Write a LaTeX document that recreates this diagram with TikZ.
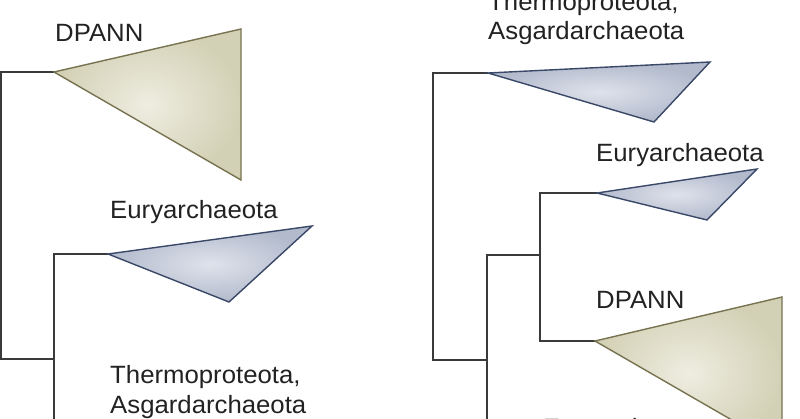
\documentclass[tikz,border=0pt]{standalone}
\usepackage{fontspec}
\setmainfont[FakeStretch=1.03]{Liberation Sans}
\definecolor{linegray}{HTML}{3A3A3A}
\definecolor{textgray}{HTML}{222222}
\definecolor{beigeedge}{HTML}{77724F}
\definecolor{beigein}{HTML}{EEEDE1}
\definecolor{beigeout}{HTML}{D3D1B5}
\definecolor{blueedge}{HTML}{3A4868}
\definecolor{bluein}{HTML}{DFE2EB}
\definecolor{blueout}{HTML}{B2BACC}
\begin{document}
\begin{tikzpicture}[x=1pt,y=-1pt,
  branch/.style={draw=linegray, line width=1.1pt},
  cladeA/.style={draw=beigeedge, line width=1.4pt, line join=miter, inner color=beigein, outer color=beigeout},
  cladeB/.style={draw=blueedge, line width=1.4pt, line join=miter, inner color=bluein, outer color=blueout},
  lab/.style={font=\fontsize{25}{30}\selectfont, text=textgray, inner sep=0pt, anchor=base west}]
\useasboundingbox (0,0) rectangle (800,419);
\clip (0,0) rectangle (800,419);
% left tree
\coordinate (L0a) at (1,72);
\coordinate (L0b) at (1,359);
\coordinate (Ld) at (54,72);
\coordinate (L1) at (54,359);
\coordinate (L1b) at (54,430);
\coordinate (Le) at (108,254);
\draw[branch] (Ld) -- (L0a) -- (L0b) -- (L1);
\draw[branch] (Le) -| (L1) -- (L1b);
\shadedraw[cladeA] (Ld) -- (241,29) -- (241,180) -- cycle;
\shadedraw[cladeB] (Le) -- (312,226) -- (229,302) -- cycle;
% right tree
\coordinate (Rt) at (488,73);
\coordinate (R0b) at (433,360);
\coordinate (R1) at (487,360);
\coordinate (R1b) at (487,430);
\coordinate (R2) at (540,255);
\coordinate (Re) at (597,193);
\coordinate (Rd) at (595,341);
\draw[branch] (Rt) -| (R0b) -- (R1);
\draw[branch] (R2) -| (R1) -- (R1b);
\draw[branch] (Re) -| (R2) |- (Rd);
\shadedraw[cladeB] (Rt) -- (710,62) -- (654,122) -- cycle;
\shadedraw[cladeB] (Re) -- (757,169) -- (707,220) -- cycle;
\shadedraw[cladeA] (Rd) -- (782,297) -- (782,449) -- cycle;
% labels
\node[lab] (tL1) at (55,42) {DPANN};
\node[lab] (tL2) at (110,219) {Euryarchaeota};
\node[lab] (tL3) at (110,383) {Thermoproteota,};
\node[lab] (tL4) at (110,413) {Asgardarchaeota};
\node[lab] (tR1) at (488,11) {Thermoproteota,};
\node[lab] (tR2) at (488,40) {Asgardarchaeota};
\node[lab] (tR3) at (596,162) {Euryarchaeota};
\node[lab] (tR4) at (596,309) {DPANN};
\node[lab] (tR5) at (543,436) {Euryarchaeota};
\end{tikzpicture}
\end{document}
